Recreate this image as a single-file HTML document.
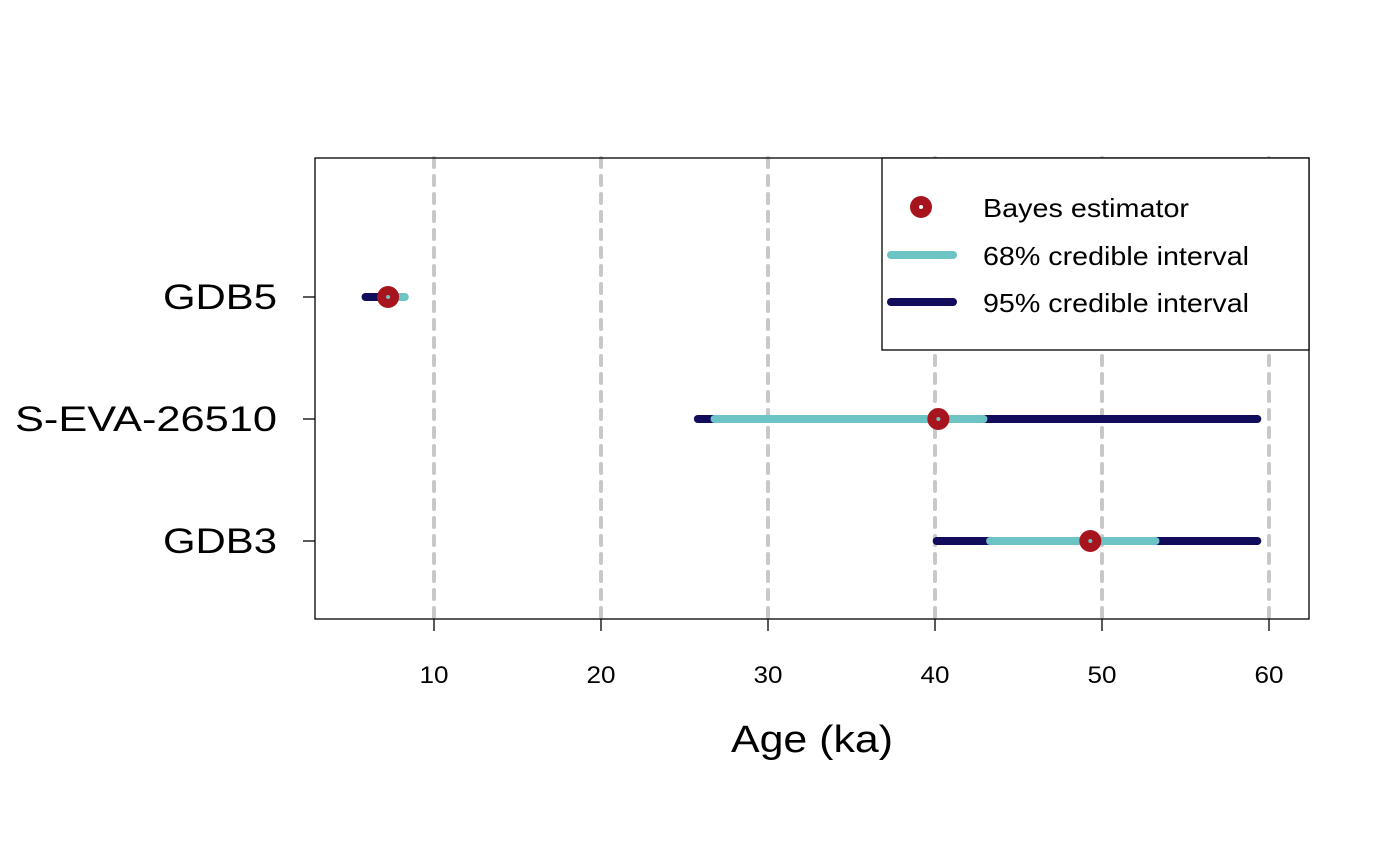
<!DOCTYPE html>
<html><head><meta charset="utf-8"><style>
body{margin:0;background:#fff;}
svg{display:block;font-family:"Liberation Sans",Arial,sans-serif;}
</style></head><body>
<svg id="chart" width="1400" height="865"></svg>
<script>
const samples=["GDB5","S-EVA-26510","GDB3"];
const est=[7.25,40.2,49.3];
const lo95=[5.9,25.8,40.1];
const hi95=[7.8,59.3,59.3];
const lo68=[6.9,26.8,43.3];
const hi68=[8.25,42.9,53.2];
const xTicks=[10,20,30,40,50,60];
const NS="http://www.w3.org/2000/svg";
const svg=document.getElementById('chart');
const L=315,R=1309,T=158,B=619;
const xs=v=>434+(v-10)*(1269-434)/50;
const ys=i=>297+i*122;
function el(t,a,p){const e=document.createElementNS(NS,t);for(const k in a)e.setAttribute(k,a[k]);(p||svg).appendChild(e);return e;}
const yLabW={"GDB5":114,"S-EVA-26510":262,"GDB3":114};
xTicks.forEach(v=>{
 const g=el('line',{x1:xs(v),x2:xs(v),y1:T,y2:B,stroke:'#c8c8c8','stroke-width':4,'stroke-dasharray':'9,9','stroke-linecap':'round'});
 
 
 const t=el('line',{x1:xs(v),x2:xs(v),y1:B,y2:B+12,stroke:'#000','stroke-width':1.3});
 
 
 const lb=el('text',{x:xs(v),y:683,'text-anchor':'middle','font-size':24,textLength:29,lengthAdjust:'spacingAndGlyphs'});
 lb.textContent=v;
 
 
});
samples.forEach((s,i)=>{
 const y=ys(i);
 const tk=el('line',{x1:L-12,x2:L,y1:y,y2:y,stroke:'#000','stroke-width':1.3});
 
 
 const lb=el('text',{x:277,y:y+12,'text-anchor':'end','font-size':35,textLength:yLabW[s]||114,lengthAdjust:'spacingAndGlyphs'});
 lb.textContent=s;
 
 
 const a=el('line',{x1:xs(lo95[i]),x2:xs(hi95[i]),y1:y,y2:y,stroke:'#120c5c','stroke-width':8,'stroke-linecap':'round'});
 
 
 const b=el('line',{x1:xs(lo68[i]),x2:xs(hi68[i]),y1:y,y2:y,stroke:'#6cc4c4','stroke-width':8,'stroke-linecap':'round'});
 
 
 const c=el('circle',{cx:xs(est[i]),cy:y,r:11,fill:'#a8141e'});
 
 
 el('circle',{cx:xs(est[i]),cy:y,r:2,fill:'#6cc4c4'});
});
const box=el('rect',{x:L,y:T,width:R-L,height:B-T,fill:'none',stroke:'#000','stroke-width':1.3});


const xt=el('text',{x:731,y:752,'font-size':38,textLength:162,lengthAdjust:'spacingAndGlyphs'});
xt.textContent='Age (ka)';


const lg=el('g',{});


el('rect',{x:882,y:T,width:R-882,height:192,fill:'#fff',stroke:'#000','stroke-width':1.3},lg);
el('circle',{cx:921,cy:207,r:11,fill:'#a8141e'},lg);
el('circle',{cx:921,cy:207,r:2,fill:'#fff'},lg);
el('line',{x1:891,x2:953,y1:255,y2:255,stroke:'#6cc4c4','stroke-width':8,'stroke-linecap':'round'},lg);
el('line',{x1:891,x2:953,y1:302,y2:302,stroke:'#120c5c','stroke-width':8,'stroke-linecap':'round'},lg);
[["Bayes estimator",217,206],["68% credible interval",265,266],["95% credible interval",312,266]].forEach(([t,y,w],k)=>{
 const e=el('text',{x:983,y:y,'font-size':26,textLength:w,lengthAdjust:'spacingAndGlyphs'},lg);
 e.textContent=t;
 
 
});
</script>
</body></html>
